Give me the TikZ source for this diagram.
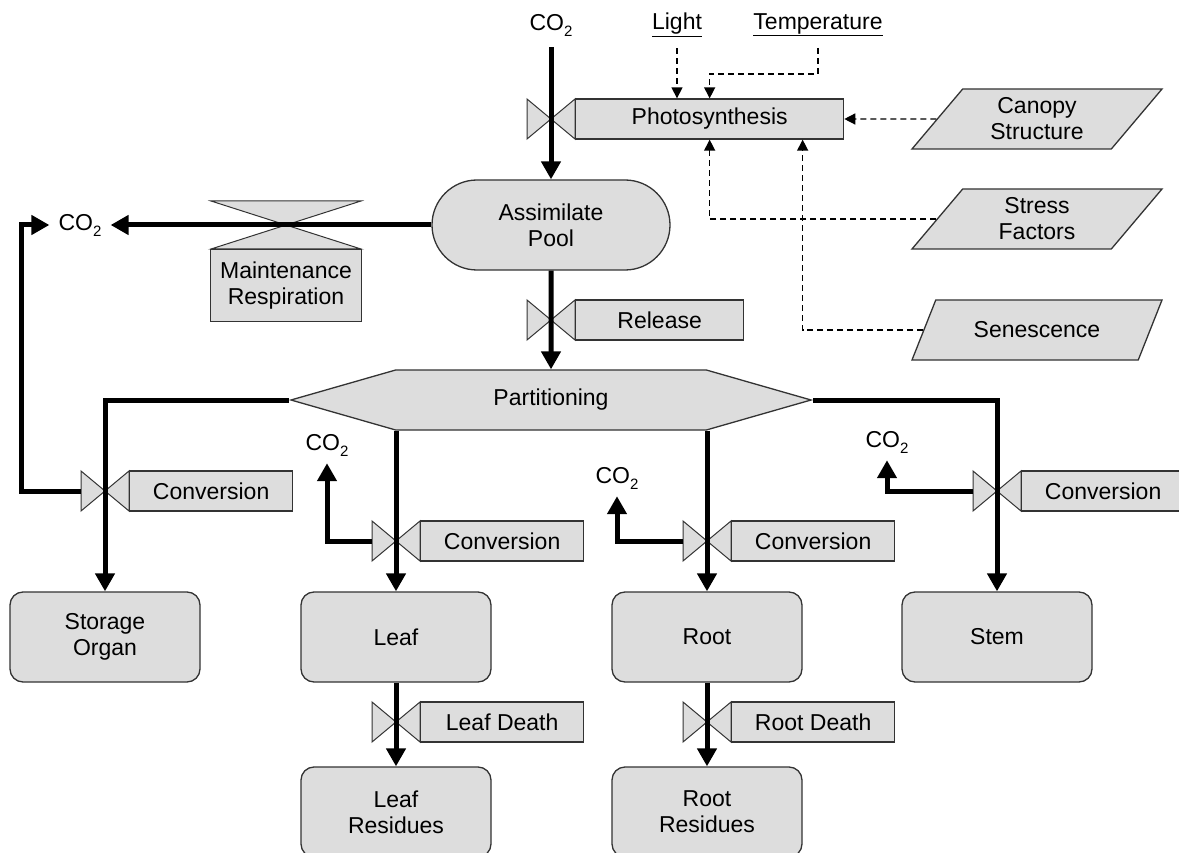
\documentclass[tikz,border=0pt]{standalone}
\usepackage{fontspec}
\setmainfont{Liberation Sans}
\usetikzlibrary{positioning, arrows.meta, shapes.geometric, shapes.symbols}
\definecolor{boxgray}{RGB}{221,221,221}

% bow-tie valve on a flow, centred on a coordinate
\newcommand{\valve}[1]{%
  \draw[valveshape, shift={(#1)}] (-24,-20) -- (-24,20) -- (24,-20) -- (24,20) -- cycle;}
\newcommand{\cotwo}{CO\raisebox{-6pt}{\fontsize{15}{15}\selectfont 2}}

\begin{document}
\begin{tikzpicture}[
    x=1pt, y=-1pt,
    font=\fontsize{23}{26}\selectfont,
    flow/.style={line width=5pt, -{Triangle[length=18pt,width=19pt]}},
    info/.style={line width=1.4pt, dash pattern=on 6pt off 4pt,
        -{Triangle[length=11pt,width=11pt]}},
    valveshape/.style={draw=black!80, fill=boxgray, line width=1pt},
    ratebox/.style={rectangle, draw=black!80, fill=boxgray, line width=1.3pt,
        minimum width=163pt, minimum height=40pt, inner sep=0pt},
    state/.style={rectangle, rounded corners=13pt, draw=black!80, fill=boxgray,
        line width=1.3pt, minimum width=190pt, minimum height=90pt, align=center},
    driver/.style={trapezium, trapezium left angle=44, trapezium right angle=136,
        trapezium stretches body, draw=black!80, fill=boxgray, line width=1.3pt,
        minimum width=250pt, minimum height=60pt, align=center},
    gas/.style={inner sep=7pt}
]
    \useasboundingbox (0,0) rectangle (1179,853);

    % valves
    \coordinate (vphoto) at (551,119);
    \coordinate (vrel) at (551,320);
    \coordinate (vmaint) at (286,225);
    \coordinate (vstor) at (105,491);
    \coordinate (vleaf) at (396,541);
    \coordinate (vroot) at (707,541);
    \coordinate (vstem) at (997,491);
    \coordinate (vleafd) at (396,722);
    \coordinate (vrootd) at (707,722);
    \foreach \v in {vphoto, vrel, vstor, vleaf, vroot, vstem, vleafd, vrootd}
        \valve{\v};
    \draw[valveshape, shift={(vmaint)}] (-75,-24) -- (75,-24) -- (-75,24) -- (75,24) -- cycle;

    % stocks
    \node[gas] (co2top) at (551,25) {\cotwo};
    \node[gas, inner sep=9pt] (co2resp) at (80,225) {\cotwo};
    \node[gas] (co2leaf) at (327,445) {\cotwo};
    \node[gas] (co2root) at (617,478) {\cotwo};
    \node[gas] (co2stem) at (887,442) {\cotwo};
    \node[state, rounded corners=45pt, minimum width=238pt] (pool) at (551,225) {Assimilate\\Pool};
    \node[signal, signal to=west and east, signal pointer angle=32, draw=black!80,
        fill=boxgray, line width=1.3pt, minimum width=520pt, minimum height=60pt,
        inner sep=0pt] (part) at (551,400) {Partitioning};
    \node[state] (storage) at (105,637) {Storage\\Organ};
    \node[state] (leaf) at (396,637) {Leaf};
    \node[state] (root) at (707,637) {Root};
    \node[state] (stem) at (997,637) {Stem};
    \node[state] (leafres) at (396,812) {Leaf\\Residues};
    \node[state] (rootres) at (707,812) {Root\\Residues};

    % rates
    \node[ratebox, right=24pt of vphoto, minimum width=268pt] (photo) {Photosynthesis};
    \node[ratebox, right=24pt of vrel, minimum width=168pt] (rel) {Release};
    \node[ratebox, below=24pt of vmaint, minimum width=151pt, minimum height=72pt,
        align=center] (maint) {Maintenance\\Respiration};
    \node[ratebox, right=24pt of vstor] (storconv) {Conversion};
    \node[ratebox, right=24pt of vleaf] (leafconv) {Conversion};
    \node[ratebox, right=24pt of vroot] (rootconv) {Conversion};
    \node[ratebox, right=24pt of vstem] (stemconv) {Conversion};
    \node[ratebox, right=24pt of vleafd] (leafdeath) {Leaf Death};
    \node[ratebox, right=24pt of vrootd] (rootdeath) {Root Death};

    % drivers
    \node (light) at (677,25) {\underline{Light}};
    \node (temp) at (818,25) {\underline{Temperature}};
    \node[driver] (canopy) at (1037,119) {Canopy\\Structure};
    \node[driver] (stress) at (1037,219) {Stress\\Factors};
    \node[driver] (senesc) at (1037,330) {Senescence};

    % material flows
    \draw[flow] ([yshift=-4pt]co2top.south) -- (pool);
    \draw[flow] (pool) -- (part);
    \draw[flow] (pool) -- (co2resp);
    \draw[flow] ([xshift=-24pt]vstor) -| ([xshift=-28pt]co2resp.west) -- (co2resp.west);
    \draw[flow] (part.west) -| (storage);
    \draw[flow] (leaf |- part.south) -- (leaf);
    \draw[flow] (root |- part.south) -- (root);
    \draw[flow] (part.east) -| (stem);
    \draw[flow] ([xshift=-24pt]vleaf) -| (co2leaf);
    \draw[flow] ([xshift=-24pt]vroot) -| (co2root);
    \draw[flow] ([xshift=-24pt]vstem) -| (co2stem);
    \draw[flow] (leaf) -- (leafres);
    \draw[flow] (root) -- (rootres);

    % information links
    \draw[info] ([yshift=-8pt]light.south) -- (light.south |- photo.north);
    \draw[info] ([yshift=-8pt]temp.south) -- ++(0,26) -| (photo.north);
    \draw[info] (canopy) -- (photo);
    \draw[info] (stress) -| (photo);
    \draw[info] (senesc) -| ([xshift=93pt]photo.south);
\end{tikzpicture}
\end{document}
